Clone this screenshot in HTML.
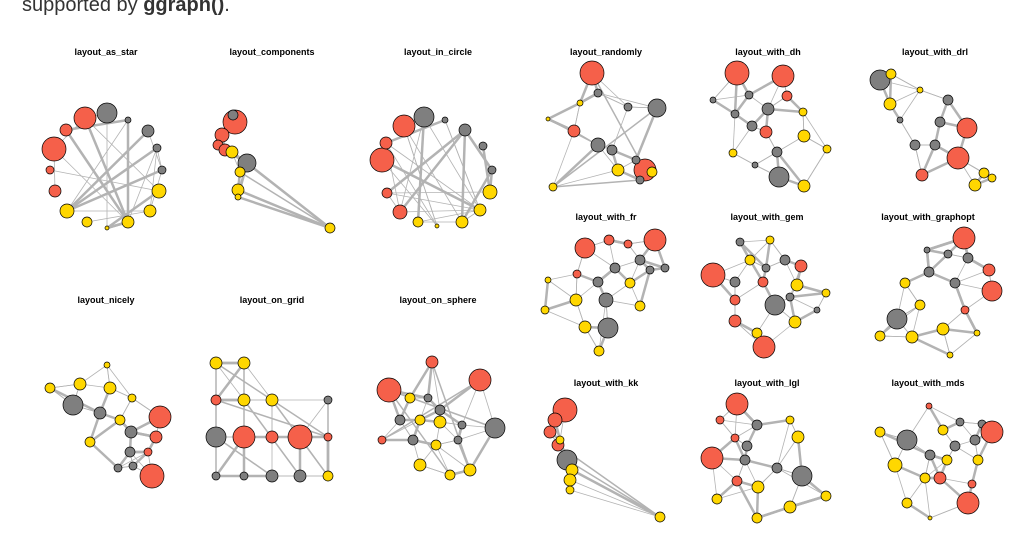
<!DOCTYPE html>
<html><head><meta charset="utf-8"><style>
html,body{margin:0;padding:0;background:#fff;width:1026px;height:540px;overflow:hidden}
#top{position:absolute;left:22px;top:-6px;font:20px "Liberation Sans",sans-serif;color:#333}
svg{position:absolute;left:0;top:0}
text{font:bold 9px "Liberation Sans",sans-serif;fill:#000}
</style></head><body>
<div id="top">supported by <b>ggraph()</b>.</div>
<svg id="s" width="1026" height="540" xmlns="http://www.w3.org/2000/svg">
<text x="106" y="55" text-anchor="middle">layout_as_star</text>
<text x="272" y="55" text-anchor="middle">layout_components</text>
<text x="438" y="55" text-anchor="middle">layout_in_circle</text>
<text x="606" y="55" text-anchor="middle">layout_randomly</text>
<text x="768" y="55" text-anchor="middle">layout_with_dh</text>
<text x="935" y="55" text-anchor="middle">layout_with_drl</text>
<text x="606" y="220" text-anchor="middle">layout_with_fr</text>
<text x="767" y="220" text-anchor="middle">layout_with_gem</text>
<text x="928" y="220" text-anchor="middle">layout_with_graphopt</text>
<text x="106" y="303" text-anchor="middle">layout_nicely</text>
<text x="272" y="303" text-anchor="middle">layout_on_grid</text>
<text x="438" y="303" text-anchor="middle">layout_on_sphere</text>
<text x="606" y="386" text-anchor="middle">layout_with_kk</text>
<text x="767" y="386" text-anchor="middle">layout_with_lgl</text>
<text x="928" y="386" text-anchor="middle">layout_with_mds</text>
</svg>
<script>
var R='#F5604A',G='#7f7f7f',Y='#FFD700';
var P=[
{m:'c',n:[[107,113,10,G],[128,120,3,G],[148,131,6,G],[157,148,4,G],[162,170,4,G],[159,191,7,Y],[150,211,6,Y],[128,222,6,Y],[107,228,2,Y],[87,222,5,Y],[67,211,7,Y],[55,191,6,R],[50,170,4,R],[54,149,12,R],[66,130,6,R],[85,118,11,R]]},
{m:'n',n:[[235,122,12,R],[222,135,7,R],[218,145,5,R],[225,150,6,R],[233,115,5,G],[247,163,9,G],[232,152,6,Y],[240,172,5,Y],[238,190,6,Y],[238,197,3,Y],[330,228,5,Y]],x:[[7,10],[8,10],[5,10]]},
{m:'c',n:[[424,117,10,G],[445,120,3,G],[465,130,6,G],[483,146,4,G],[492,170,4,G],[490,192,7,Y],[480,210,6,Y],[462,222,6,Y],[437,226,2,Y],[418,222,5,Y],[400,212,7,R],[387,193,5,R],[382,160,12,R],[386,143,6,R],[404,126,11,R]]},
{m:'n',n:[[592,73,12,R],[598,93,4,G],[580,103,3,Y],[657,108,9,G],[628,107,4,G],[574,131,6,R],[598,145,7,G],[612,150,5,G],[645,170,11,R],[652,172,5,Y],[636,160,4,G],[618,170,6,Y],[553,187,4,Y],[548,119,2,Y],[640,180,4,G]],x:[[12,3],[13,6],[0,8],[12,14]]},
{m:'n',n:[[737,73,12,R],[783,76,11,R],[787,96,5,R],[749,95,4,G],[768,109,6,G],[713,100,3,G],[735,114,4,G],[752,126,5,G],[766,132,6,R],[803,112,4,Y],[804,136,6,Y],[827,149,4,Y],[777,152,5,G],[733,153,4,Y],[779,177,10,G],[804,186,6,Y],[755,165,3,G]]},
{m:'n',n:[[880,80,10,G],[891,74,5,Y],[890,104,6,Y],[920,90,3,Y],[948,100,5,G],[967,128,10,R],[958,158,11,R],[935,145,5,G],[915,145,5,G],[940,122,5,G],[984,173,5,Y],[975,185,6,Y],[992,178,4,Y],[922,175,6,R],[900,120,3,G]]},
{m:'n',n:[[585,248,10,R],[609,240,5,R],[628,244,4,R],[655,240,11,R],[640,260,5,G],[650,270,4,G],[665,268,4,G],[577,274,4,R],[615,268,5,G],[598,282,5,G],[548,280,3,Y],[630,283,5,Y],[576,300,6,Y],[606,300,7,G],[640,306,5,Y],[545,310,4,Y],[585,327,6,Y],[608,328,10,G],[599,351,5,Y]]},
{m:'n',n:[[740,242,4,G],[770,240,4,Y],[750,260,5,Y],[766,268,4,G],[785,260,5,G],[713,275,12,R],[735,282,5,G],[763,282,5,R],[801,266,6,R],[797,285,6,Y],[790,297,4,G],[775,305,10,G],[735,300,5,R],[735,321,6,R],[795,322,6,Y],[757,333,5,Y],[826,293,4,Y],[817,310,3,G],[764,347,11,R]]},
{m:'n',n:[[964,238,11,R],[948,254,4,G],[927,250,3,G],[968,258,5,G],[929,272,5,G],[955,283,5,G],[989,270,6,R],[905,283,5,Y],[992,291,10,R],[920,305,5,Y],[965,310,4,R],[897,319,10,G],[943,329,6,Y],[977,333,3,Y],[880,336,5,Y],[912,337,6,Y],[950,355,3,Y]]},
{m:'n',n:[[107,365,3,Y],[50,388,5,Y],[80,384,6,Y],[110,388,6,Y],[73,405,10,G],[132,398,4,Y],[100,413,6,G],[120,420,5,Y],[160,417,11,R],[131,432,6,G],[90,442,5,Y],[156,437,6,R],[130,452,5,G],[148,452,4,R],[133,466,4,G],[118,468,4,G],[152,476,12,R]]},
{m:'n',n:[[216,363,6,Y],[244,363,6,Y],[216,400,5,R],[244,400,6,Y],[272,400,6,Y],[328,400,4,G],[216,437,10,G],[244,437,11,R],[272,437,6,R],[300,437,12,R],[328,437,4,R],[216,476,4,G],[244,476,4,G],[272,476,6,G],[300,476,6,G],[328,476,5,Y]],x:[[0,11],[1,12],[5,15],[2,10],[3,14],[4,15],[6,13],[0,10]]},
{m:'n',n:[[432,362,6,R],[389,390,12,R],[480,380,11,R],[410,398,5,Y],[428,398,4,G],[440,410,5,G],[400,420,5,G],[420,420,5,Y],[440,422,6,Y],[495,428,10,G],[462,425,4,G],[382,440,4,R],[413,440,5,G],[436,445,5,Y],[458,440,4,G],[420,465,6,Y],[470,470,6,Y],[450,475,5,Y]],x:[[1,9],[2,11],[0,16],[1,17]]},
{m:'n',n:[[565,410,12,R],[555,420,7,R],[550,432,6,R],[558,445,6,R],[567,460,10,G],[572,470,6,Y],[570,480,6,Y],[570,490,4,Y],[660,517,5,Y],[560,440,4,Y]],x:[[4,8],[5,8],[3,8]]},
{m:'n',n:[[737,404,11,R],[720,420,4,R],[757,425,5,G],[790,420,4,Y],[735,438,4,R],[747,446,5,G],[798,437,6,Y],[712,458,11,R],[745,460,5,G],[777,468,5,G],[802,476,10,G],[737,481,5,R],[758,487,6,Y],[717,499,5,Y],[790,507,6,Y],[826,496,5,Y],[757,518,5,Y]]},
{m:'n',n:[[929,406,3,R],[960,422,4,G],[982,424,4,G],[992,432,11,R],[880,432,5,Y],[907,440,10,G],[943,430,5,Y],[975,440,5,G],[930,455,5,G],[955,446,5,G],[895,465,7,Y],[947,460,5,Y],[978,460,5,Y],[940,478,6,R],[925,478,5,Y],[972,484,4,R],[968,503,11,R],[907,503,5,Y],[930,518,2,Y]]}
];
var s=document.getElementById('s'),NS='http://www.w3.org/2000/svg',seed=7;
function rnd(){seed=(seed*9301+49297)%233280;return seed/233280;}
function ln(a,b,w){var l=document.createElementNS(NS,'line');l.setAttribute('x1',a[0]);l.setAttribute('y1',a[1]);l.setAttribute('x2',b[0]);l.setAttribute('y2',b[1]);l.setAttribute('stroke','#b3b3b3');l.setAttribute('stroke-width',w);s.insertBefore(l,s.firstChild);}
P.forEach(function(p){var n=p.n;
 if(p.m=='c'){for(var i=0;i<28;i++){var a=Math.floor(rnd()*n.length),b=Math.floor(rnd()*n.length);if(a!=b)ln(n[a],n[b],rnd()<0.3?2.5:0.8);}}
 else{n.forEach(function(a,i){var d=n.map(function(b,j){return[(a[0]-b[0])*(a[0]-b[0])+(a[1]-b[1])*(a[1]-b[1]),j]}).sort(function(x,y){return x[0]-y[0]});
  for(var k=1;k<=3&&k<d.length;k++)ln(a,n[d[k][1]],rnd()<0.3?2.5:0.8);});}
 (p.x||[]).forEach(function(e){ln(n[e[0]],n[e[1]],1.5);});
});
P.forEach(function(p){p.n.forEach(function(a){var c=document.createElementNS(NS,'circle');c.setAttribute('cx',a[0]);c.setAttribute('cy',a[1]);c.setAttribute('r',a[2]);c.setAttribute('fill',a[3]);c.setAttribute('stroke','#000');c.setAttribute('stroke-width',0.7);s.appendChild(c);});});
</script>
</body></html>
